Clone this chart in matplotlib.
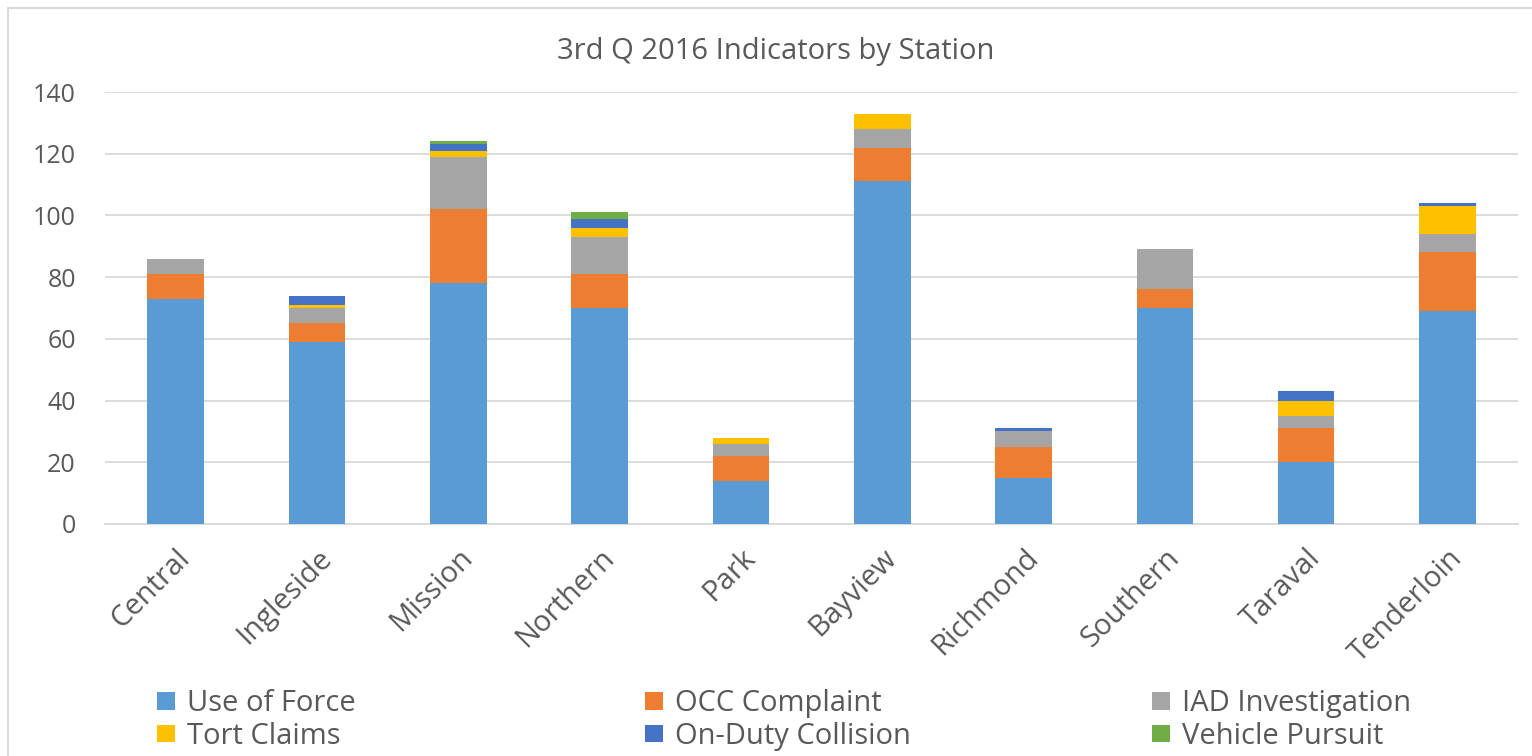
#!/usr/bin/env python3

## 3rd Q 2016 indicators by station - stacked bar chart

import numpy as np
import matplotlib
matplotlib.use('Agg')
import matplotlib.pyplot as plt
from matplotlib.patches import Rectangle

plt.rcParams['font.family'] = ['Open Sans', 'DejaVu Sans']

# data
stations = ['Central', 'Ingleside', 'Mission', 'Northern', 'Park',
            'Bayview', 'Richmond', 'Southern', 'Taraval', 'Tenderloin']
use_of_force = [73, 59, 78, 70, 14, 111, 15, 70, 20, 69]
occ_complaint = [8, 6, 24, 11, 8, 11, 10, 6, 11, 19]
iad_investigation = [5, 5, 17, 12, 4, 6, 5, 13, 4, 6]
tort_claims = [0, 1, 2, 3, 2, 5, 0, 0, 5, 9]
on_duty_collision = [0, 3, 2, 3, 0, 0, 1, 0, 3, 1]
vehicle_pursuit = [0, 0, 1, 2, 0, 0, 0, 0, 0, 0]

series_names = ['Use of Force', 'OCC Complaint', 'IAD Investigation',
                'Tort Claims', 'On-Duty Collision', 'Vehicle Pursuit']
series_vals = [use_of_force, occ_complaint, iad_investigation,
               tort_claims, on_duty_collision, vehicle_pursuit]
colours = ['#5B9BD5', '#ED7D31', '#A5A5A5', '#FFC000', '#4472C4', '#70AD47']

fig = plt.figure(figsize=(15.32, 7.56), dpi=100)
ax = fig.add_axes([0.0685, 0.3069, 0.9225, 0.5714])

# outer chart border
fig.patches.append(Rectangle((0.005, -0.01), 1.0, 1.0 - 0.0006, transform=fig.transFigure,
                             fill=False, edgecolor='#D9D9D9', linewidth=1.5))

x = np.arange(len(stations))
bottom = np.zeros(len(stations))
handles = []
for name, vals, col in zip(series_names, series_vals, colours):
    b = ax.bar(x, vals, width=0.4, bottom=bottom, color=col, label=name, zorder=3)
    handles.append(b)
    bottom += np.array(vals)

ax.set_xlim(-0.5, len(stations) - 0.5)
ax.set_ylim(0, 140)
ax.set_yticks(range(0, 141, 20))
ax.yaxis.grid(True, color='#D9D9D9', linewidth=1.3, zorder=0)
for s in ['top', 'right', 'left']:
    ax.spines[s].set_visible(False)
ax.spines['bottom'].set_color('#D9D9D9')
ax.spines['bottom'].set_linewidth(1.3)
ax.tick_params(axis='both', length=0, labelsize=18, colors='#595959')
ax.tick_params(axis='y', pad=21)
ax.set_xticks(x)
ax.set_xticklabels(stations, rotation=45, ha='right', rotation_mode='anchor')
ax.tick_params(axis='x', pad=14, labelsize=21)

fig.text(0.506, 0.932, '3rd Q 2016 Indicators by Station', ha='center', va='center',
         fontsize=21, color='#595959')

## legend: three single-column blocks, filled row-wise
col_x = [0.1025, 0.421, 0.752]
for i, cx in enumerate(col_x):
    hs = [handles[i], handles[i + 3]]
    lab = [series_names[i], series_names[i + 3]]
    fig.legend(hs, lab, loc='upper left', bbox_to_anchor=(cx, 0.088), ncol=1,
               frameon=False, fontsize=21, handlelength=0.62, handleheight=0.55,
               handletextpad=0.4, labelspacing=0.12, labelcolor='#595959',
               borderaxespad=0, borderpad=0, bbox_transform=fig.transFigure)

fig.savefig('out.png', dpi=100)
